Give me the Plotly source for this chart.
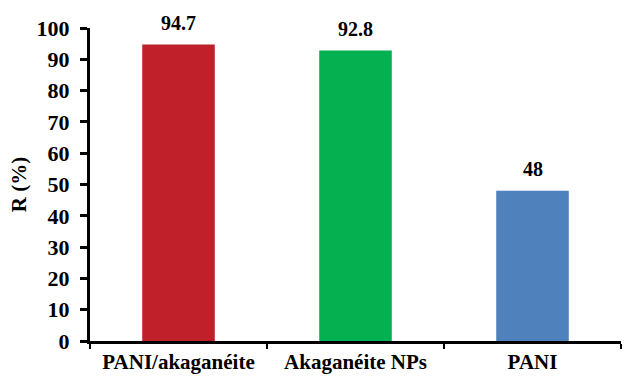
import plotly.graph_objects as go

categories = ["PANI/akaganéite", "Akaganéite NPs", "PANI"]
removal = [94.7, 92.8, 48]
colors = ["#C0202A", "#05B050", "#4F81BD"]
labels = ["94.7", "92.8", "48"]

font_family = "Liberation Serif"

fig = go.Figure()
fig.add_trace(go.Bar(
    x=categories,
    y=removal,
    marker=dict(color=colors, line=dict(width=0)),
    width=0.41,
))

for cat, val, lab in zip(categories, removal, labels):
    fig.add_annotation(
        x=cat, y=val, text=f"<b>{lab}</b>", showarrow=False,
        yanchor="bottom", yshift=9,
        font=dict(family=font_family, size=20, color="black"),
    )

fig.update_layout(
    width=643, height=376,
    margin=dict(l=90, r=22, t=28, b=35),
    plot_bgcolor="white", paper_bgcolor="white",
    showlegend=False,
    font=dict(family=font_family, size=21, color="black"),
)

fig.update_xaxes(
    showline=True, linecolor="black", linewidth=3,
    ticks="outside", tickson="boundaries", ticklen=5, tickwidth=2, tickcolor="black",
    tickfont=dict(family=font_family, size=21, color="black"),
    tickprefix="<b>", ticksuffix="</b>",
    showgrid=False, automargin=False,
)

fig.update_yaxes(
    range=[0, 100], dtick=10,
    showline=True, linecolor="black", linewidth=3,
    ticks="outside", ticklen=7, tickwidth=3, tickcolor="black",
    tickfont=dict(family=font_family, size=22, color="black"),
    tickprefix="<b>", ticksuffix="</b>",
    ticklabelstandoff=6,
    showgrid=False, zeroline=False, automargin=False,
    title=dict(text="<b>R (%)</b>", font=dict(family=font_family, size=21, color="black"), standoff=5),
)

fig.write_html("out.html")
